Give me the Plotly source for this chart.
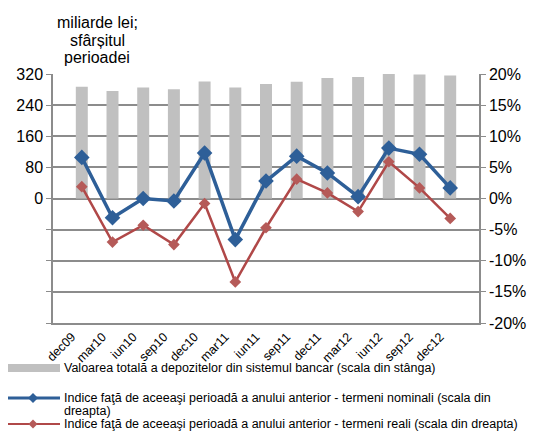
import plotly.graph_objects as go

perioade = ["dec09", "mar10", "iun10", "sep10", "dec10", "mar11", "iun11",
            "sep11", "dec11", "mar12", "iun12", "sep12", "dec12"]
depozite = [287, 276, 285, 281, 301, 285, 294, 300, 310, 312, 320, 319, 316]
nominal = [6.6, -3.1, 0.0, -0.4, 7.3, -6.6, 2.8, 6.8, 4.1, 0.3, 8.1, 7.1, 1.7]
real = [1.9, -7.0, -4.3, -7.4, -0.8, -13.4, -4.7, 3.1, 0.9, -2.1, 5.9, 1.7, -3.2]

stanga_ticks = [-320, -240, -160, -80, 0, 80, 160, 240, 320]
stanga_text = ["", "", "", "", "0", "80", "160", "240", "320"]
dreapta_ticks = [-20, -15, -10, -5, 0, 5, 10, 15, 20]
dreapta_text = ["-20%", "-15%", "-10%", "-5%", "0%", "5%", "10%", "15%", "20%"]

leg_bar = "Valoarea totală a depozitelor din sistemul bancar (scala din stânga)"
leg_nom = ["Indice faţă de aceeaşi perioadă a anului anterior - termeni nominali (scala din",
           "dreapta)"]
leg_real = "Indice faţă de aceeaşi perioadă a anului anterior - termeni reali (scala din dreapta)"
titlu = ["miliarde lei;", "sfârșitul", "perioadei"]

FONT = "Liberation Sans, Arial, sans-serif"
GRI = "#8c8c8c"
BAR_C = "#c0c0c0"
BLUE = "#2e5f98"
RED = "#b04848"

# pagina are 8px margine implicita -> totul e deplasat cu 8px
O = 8
W, H = 550 - O, 432 - O
L, R, T, B = 53 - O, 479 - O, 74 - O, 323 - O


def px(x):
    return (x - O - L) / (R - L)


def py(y):
    return (B - (y - O)) / (B - T)


fig = go.Figure()
fig.add_trace(go.Bar(
    x=perioade, y=depozite, marker=dict(color=BAR_C, line=dict(width=0)),
    width=0.39, name=leg_bar, yaxis="y", showlegend=False
))
fig.add_trace(go.Scatter(
    x=perioade, y=nominal, mode="lines+markers", yaxis="y2",
    line=dict(color=BLUE, width=3.5),
    marker=dict(symbol="diamond", size=12, color=BLUE),
    name=leg_nom[0], showlegend=False
))
fig.add_trace(go.Scatter(
    x=perioade, y=real, mode="lines+markers", yaxis="y2",
    line=dict(color=RED, width=2.5),
    marker=dict(symbol="diamond", size=9, color="#b55a58"),
    name=leg_real, showlegend=False
))


# legenda desenata manual (coordonate in pixeli ai imaginii de referinta)
def diamond(cx, cy, r, color):
    return dict(type="path", xref="paper", yref="paper",
                path=f"M {px(cx - r)} {py(cy)} L {px(cx)} {py(cy - r)} L {px(cx + r)} {py(cy)} L {px(cx)} {py(cy + r)} Z",
                fillcolor=color, line=dict(width=0))


shapes = [
    dict(type="rect", xref="paper", yref="paper", x0=px(8), x1=px(60), y0=py(372), y1=py(364),
         fillcolor=BAR_C, line=dict(width=0)),
    dict(type="line", xref="paper", yref="paper", x0=px(8), x1=px(60), y0=py(398), y1=py(398),
         line=dict(color=BLUE, width=3)),
    diamond(33, 398, 5, BLUE),
    dict(type="line", xref="paper", yref="paper", x0=px(8), x1=px(60), y0=py(424), y1=py(424),
         line=dict(color=RED, width=2)),
    diamond(33, 424, 4.5, "#b55a58"),
]


def txt(t, x, y, size, anchor="left"):
    return dict(text=t, xref="paper", yref="paper", x=px(x), y=py(y),
                xanchor=anchor, yanchor="middle", showarrow=False,
                font=dict(size=size))


anns = [
    txt(titlu[0], 97, 23, 16, "center"),
    txt(titlu[1], 97, 40, 16, "center"),
    txt(titlu[2], 97, 57, 16, "center"),
    txt(leg_bar, 62, 368, 12.5),
    txt(leg_nom[0], 62, 398, 12.5),
    txt(leg_nom[1], 62, 411, 12.5),
    txt(leg_real, 62, 424, 12.5),
]

fig.update_layout(
    width=W, height=H,
    margin=dict(l=L, r=W - R, t=T, b=H - B, autoexpand=False),
    paper_bgcolor="white", plot_bgcolor="white",
    font=dict(family=FONT, color="#000000", size=16),
    showlegend=False,
    xaxis=dict(
        type="category", tickangle=-45, tickfont=dict(size=12.5),
        showline=True, linecolor=GRI, linewidth=1.5, showgrid=False,
        ticks="", automargin=False, ticklabelshift=-10, ticklabelstandoff=0
    ),
    yaxis=dict(
        range=[-320, 320], tickvals=stanga_ticks, ticktext=stanga_text,
        showgrid=False, zeroline=False, showline=True, linecolor=GRI, linewidth=1.5,
        ticks="outside", ticklen=5, tickcolor=GRI, automargin=False
    ),
    yaxis2=dict(
        range=[-20, 20], tickvals=dreapta_ticks, ticktext=dreapta_text,
        overlaying="y", side="right",
        showgrid=True, gridcolor=GRI, gridwidth=1.5, zeroline=False,
        showline=True, linecolor=GRI, linewidth=1.5,
        ticks="outside", ticklen=5, tickcolor=GRI, automargin=False
    ),
    shapes=shapes,
    annotations=anns,
)

fig.write_html("out.html")
